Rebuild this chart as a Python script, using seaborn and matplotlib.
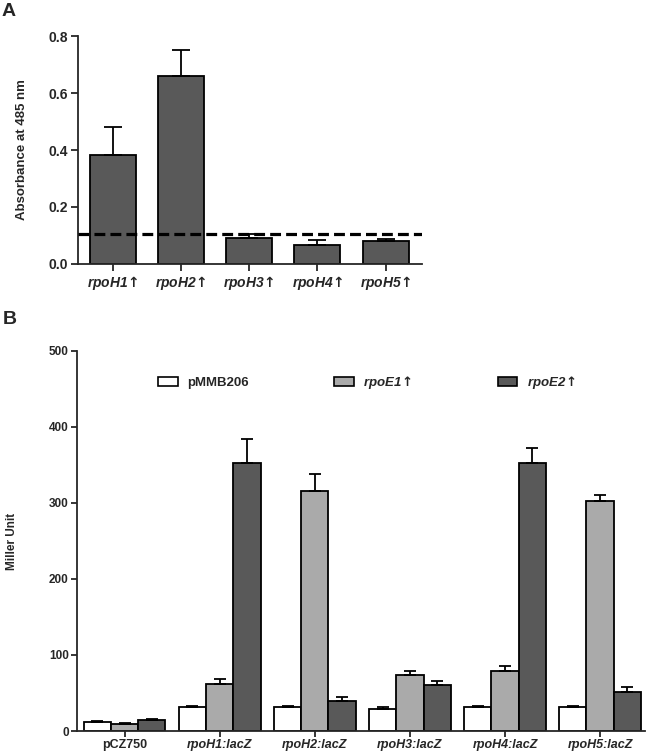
import matplotlib
matplotlib.use("Agg")
import matplotlib.pyplot as plt
import seaborn as sns
import pandas as pd

# Panel A: absorbance at 485 nm
a_labels = ["rpoH1$\\!\\uparrow$", "rpoH2$\\!\\uparrow$", "rpoH3$\\!\\uparrow$",
            "rpoH4$\\!\\uparrow$", "rpoH5$\\!\\uparrow$"]
a_values = [0.382, 0.660, 0.092, 0.067, 0.082]
a_err = [0.100, 0.091, 0.012, 0.017, 0.005]
a_cutoff = 0.105

# Panel B: Miller units
b_constructs = ["pCZ750", "rpoH1:lacZ", "rpoH2:lacZ", "rpoH3:lacZ", "rpoH4:lacZ", "rpoH5:lacZ"]
b_strains = ["pMMB206", "rpoE1$\\!\\uparrow$", "rpoE2$\\!\\uparrow$"]
b_pmmb206 = [11.8, 31, 31, 29.5, 31, 31.6]
b_pmmb206_err = [2, 2, 2, 2, 2, 1.5]
b_rpoe1 = [9.2, 62, 316, 74, 79, 302]
b_rpoe1_err = [1.3, 6, 22, 5, 6, 8]
b_rpoe2 = [14, 353, 39, 60, 352, 51]
b_rpoe2_err = [2, 31, 6, 6, 20, 7]

sns.set_style("ticks")
plt.rcParams["font.family"] = ["Liberation Sans", "DejaVu Sans"]
plt.rcParams["font.weight"] = "bold"
plt.rcParams["mathtext.fontset"] = "dejavusans"
plt.rcParams["mathtext.default"] = "bf"
plt.rcParams["axes.linewidth"] = 1.3
plt.rcParams["xtick.major.width"] = 1.3
plt.rcParams["ytick.major.width"] = 1.3

fig = plt.figure(figsize=(6.5, 7.54), dpi=100)
axA = fig.add_axes([0.12, 0.65, 0.529, 0.302])
axB = fig.add_axes([0.1185, 0.0305, 0.8735, 0.504])

# ---- panel A
dfA = pd.DataFrame({"label": a_labels, "value": a_values})
sns.barplot(data=dfA, x="label", y="value", color="#595959", saturation=1,
            width=0.675, edgecolor="black", linewidth=1.3, errorbar=None, ax=axA)
xs = [p.get_x() + p.get_width() / 2 for p in axA.patches]
axA.errorbar(xs, a_values, yerr=[[0] * len(a_err), a_err], fmt="none",
             ecolor="black", elinewidth=1.3, capsize=6.5, capthick=1.3, zorder=1)
axA.axhline(a_cutoff, color="black", ls=(0, (3.4, 1.6)), lw=2.3, zorder=5)
axA.set_ylim(0, 0.8)
axA.set_xlim(-0.51, 4.53)
axA.set_yticks([0, 0.2, 0.4, 0.6, 0.8])
axA.set_yticklabels(["0.0", "0.2", "0.4", "0.6", "0.8"], fontsize=10, fontweight="bold")
axA.set_xticks(range(len(a_labels)))
axA.set_xticklabels(a_labels, fontsize=10, fontweight="bold", fontstyle="italic")
axA.tick_params(length=5, pad=2)
axA.set_xlabel("")
axA.set_ylabel("Absorbance at 485 nm", fontsize=9.5, fontweight="bold")
axA.yaxis.set_label_coords(-0.145, 0.5)
sns.despine(ax=axA)

# ---- panel B
rows = []
for strain, vals in zip(b_strains, [b_pmmb206, b_rpoe1, b_rpoe2]):
    for c, v in zip(b_constructs, vals):
        rows.append({"construct": c, "strain": strain, "value": v})
dfB = pd.DataFrame(rows)
sns.barplot(data=dfB, x="construct", y="value", hue="strain", order=b_constructs,
            hue_order=b_strains, palette=["white", "#aaaaaa", "#595959"], saturation=1,
            width=0.86, edgecolor="black", linewidth=1.3, errorbar=None, ax=axB)
for cont, vals, errs in zip(axB.containers, [b_pmmb206, b_rpoe1, b_rpoe2],
                            [b_pmmb206_err, b_rpoe1_err, b_rpoe2_err]):
    xs = [p.get_x() + p.get_width() / 2 for p in cont.patches]
    axB.errorbar(xs, vals, yerr=[[0] * len(errs), errs], fmt="none",
                 ecolor="black", elinewidth=1.3, capsize=4.5, capthick=1.3, zorder=1)
axB.set_ylim(0, 500)
axB.set_xlim(-0.5, 5.47)
axB.set_yticks([0, 100, 200, 300, 400, 500])
axB.set_yticklabels(["0", "100", "200", "300", "400", "500"], fontsize=8.5, fontweight="bold")
axB.set_xticks(range(len(b_constructs)))
axB.set_xticklabels(b_constructs, fontsize=9, fontweight="bold")
for t in axB.get_xticklabels():
    if t.get_text().startswith("rpo"):
        t.set_fontstyle("italic")
axB.tick_params(length=4, pad=2)
axB.set_xlabel("")
axB.set_ylabel("Miller Unit", fontsize=8.5, fontweight="bold")
axB.yaxis.set_label_coords(-0.104, 0.5)
sns.despine(ax=axB)

handles, labels = axB.get_legend_handles_labels()
leg = axB.legend(handles, labels, ncol=3, loc="center", bbox_to_anchor=(0.51, 0.916),
                 frameon=False, handlelength=1.5, handleheight=0.65, columnspacing=6.5,
                 handletextpad=0.7, prop={"size": 9.5, "weight": "bold"})
for h in leg.legend_handles:
    h.set_edgecolor("black")
    h.set_linewidth(1.2)
for t in leg.get_texts():
    if t.get_text().startswith("rpo"):
        t.set_fontstyle("italic")

fig.text(0.003, 0.996, "A", fontsize=14, fontweight="bold", va="top")
fig.text(0.004, 0.587, "B", fontsize=14, fontweight="bold", va="top")

fig.savefig("out.png", dpi=100)
